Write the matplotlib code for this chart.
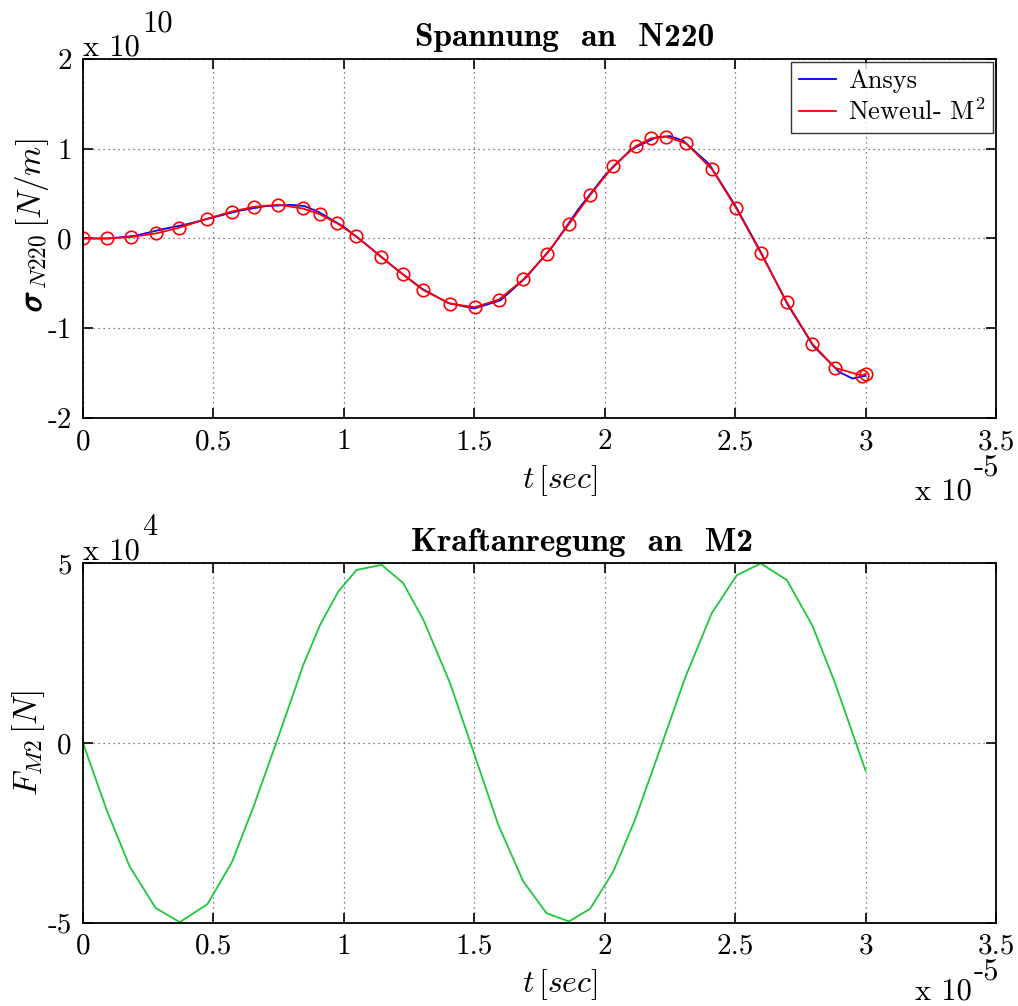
import numpy as np
import matplotlib
matplotlib.use("Agg")
import matplotlib.pyplot as plt
import matplotlib.patheffects as pe
from matplotlib.ticker import FixedLocator

plt.rcParams['font.family'] = ['cmr10', 'DejaVu Serif']
plt.rcParams['mathtext.fontset'] = 'cm'
plt.rcParams['axes.unicode_minus'] = False

# --- Spannung an N220 (values in 1e10 N/m, time in 1e-5 s) ---
t_ansys = [0, 0.1, 0.2, 0.3, 0.4, 0.5, 0.6, 0.7, 0.8, 0.85, 0.9, 1.0, 1.1, 1.2, 1.3,
           1.4, 1.5, 1.6, 1.7, 1.8, 1.9, 2.0, 2.1, 2.2, 2.25, 2.3, 2.4, 2.5,
           2.6, 2.7, 2.8, 2.9, 2.95, 3.0]
sig_ansys = [0, 0.0, 0.03, 0.10, 0.16, 0.235, 0.31, 0.36, 0.375, 0.36, 0.30, 0.13, -0.10,
             -0.34, -0.56, -0.72, -0.78, -0.69, -0.43, -0.09, 0.33, 0.70, 0.99,
             1.13, 1.14, 1.09, 0.83, 0.37, -0.16, -0.73, -1.20, -1.49, -1.56, -1.53]

t_neweul = [0.0, 0.091, 0.183, 0.279, 0.369, 0.477, 0.570, 0.656, 0.749, 0.843,
            0.909, 0.975, 1.047, 1.142, 1.226, 1.305, 1.407, 1.501, 1.595, 1.688,
            1.778, 1.864, 1.944, 2.033, 2.119, 2.177, 2.235, 2.312, 2.412, 2.503,
            2.598, 2.698, 2.796, 2.883, 2.985, 3.0]
sig_neweul = [0.0, 0.0, 0.015, 0.056, 0.12, 0.22, 0.30, 0.353, 0.376, 0.334,
              0.268, 0.167, 0.026, -0.204, -0.40, -0.576, -0.725, -0.766, -0.68, -0.457,
              -0.171, 0.164, 0.483, 0.806, 1.029, 1.115, 1.134, 1.059, 0.769, 0.342,
              -0.16, -0.71, -1.174, -1.441, -1.527, -1.508]

# --- Kraftanregung an M2 (values in 1e4 N) ---
t_force = [0, 0.091, 0.179, 0.279, 0.371, 0.477, 0.571, 0.652, 0.748, 0.845, 0.909,
           0.979, 1.049, 1.145, 1.228, 1.305, 1.407, 1.50, 1.592, 1.688, 1.777,
           1.863, 1.944, 2.033, 2.116, 2.225, 2.308, 2.410, 2.506, 2.598, 2.698,
           2.796, 2.883, 3.0]
f_force = [0, -1.87, -3.44, -4.60, -4.99, -4.49, -3.32, -1.81, 0.15, 2.18, 3.29,
           4.22, 4.82, 4.96, 4.45, 3.43, 1.67, -0.31, -2.28, -3.86, -4.74,
           -4.97, -4.62, -3.58, -2.14, 0.09, 1.81, 3.61, 4.67, 5.0, 4.54,
           3.27, 1.67, -0.77]

xticks = [0, 0.5, 1, 1.5, 2, 2.5, 3, 3.5]
xticklabels = ["0", "0.5", "1", "1.5", "2", "2.5", "3", "3.5"]
FS = 21
W, H = 1018, 1006


def px(x, y):
    # pixel position (from top-left) -> figure fraction
    return x / W, 1 - y / H


def style_axes(ax, yticks, ylabels):
    ax.set_xlim(0, 3.5)
    ax.xaxis.set_major_locator(FixedLocator(xticks))
    ax.set_xticklabels(xticklabels)
    ax.yaxis.set_major_locator(FixedLocator(yticks))
    ax.set_yticklabels(ylabels)
    ax.tick_params(direction='in', length=7, width=1.2, top=True, right=True,
                   labelsize=FS, pad=8)
    ax.grid(True, linestyle=(0, (1, 3)), color='0.35', linewidth=0.9)
    for s in ax.spines.values():
        s.set_linewidth(1.3)
    ax.set_xlabel(r'$t\,[sec]$', fontsize=FS + 2)
    ax.xaxis.set_label_coords(0.522, -0.125)


def power_label(xp, yp, exp, size=FS, rise=24):
    # MATLAB style "x 10^n" multiplier, baseline of "x 10" at (xp, yp) pixels
    fig.text(*px(xp, yp), 'x 10', fontsize=size + 1, ha='left', va='baseline')
    fig.text(*px(xp + 59, yp - rise), exp, fontsize=size + 1, ha='left', va='baseline')


fig = plt.figure(figsize=(W / 100, H / 100), dpi=100)
ax1 = fig.add_axes([0.0815, 0.5845, 0.8969, 0.3569])
ax2 = fig.add_axes([0.0815, 0.0830, 0.8969, 0.3569])

# top plot
ax1.plot(t_ansys, sig_ansys, color='#0000ff', lw=1.3, label='Ansys')
ax1.plot(t_neweul, sig_neweul, color='#ff0000', lw=1.3, label='Neweul- M$^2$')
ax1.plot(t_neweul, sig_neweul, 'o', mfc='none', mec='#ff0000', ms=9, mew=1.2)
ax1.set_ylim(-2, 2)
style_axes(ax1, [-2, -1, 0, 1, 2], ["-2", "-1", "0", "1", "2"])
ax1.set_title('Spannung  an  N220', fontfamily='cmb10', fontsize=24, pad=9, x=0.528)
leg = ax1.legend(loc='upper right', fontsize=FS - 2, frameon=True, fancybox=False,
                 edgecolor='black', borderaxespad=0.1, handlelength=1.4,
                 borderpad=0.3, labelspacing=0.2, handletextpad=0.45)
leg.get_frame().set_linewidth(1.0)

# y label with bold sigma, built from two rotated pieces
sig = fig.text(*px(41, 312), r'$\sigma$', fontsize=FS + 3, rotation=90,
               rotation_mode='anchor', ha='left', va='baseline',
               path_effects=[pe.withStroke(linewidth=1.0, foreground='black')])
fig.canvas.draw()
bb = sig.get_window_extent()
fig.text(*px(41, 312 - bb.height - 1), r'$_{N220}\,[N/m]$', fontsize=FS + 3,
         rotation=90, rotation_mode='anchor', ha='left', va='baseline')

power_label(83, 55, '10')
power_label(915, 500, '-5')

# bottom plot
ax2.plot(t_force, f_force, color='#1ec83c', lw=1.3)
ax2.set_ylim(-5, 5)
style_axes(ax2, [-5, 0, 5], ["-5", "0", "5"])
ax2.set_title('Kraftanregung  an  M2', fontfamily='cmb10', fontsize=24, pad=9, x=0.547)
ax2.set_ylabel(r'$F_{M2}\,[N]$', fontsize=FS + 3, labelpad=0)

power_label(83, 559, '4')
power_label(915, 999, '-5', rise=19)

fig.savefig('out.png', dpi=100)
